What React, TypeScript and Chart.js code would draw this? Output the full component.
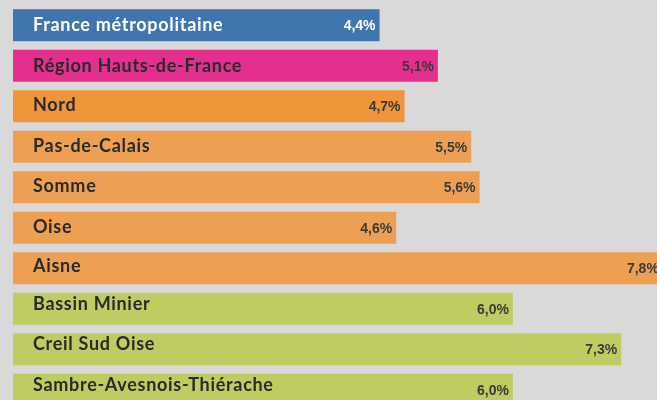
import React, { useEffect, useRef } from "react";
import { Chart, registerables } from "chart.js";

Chart.register(...registerables);

const categories = [
  "France métropolitaine",
  "Région Hauts-de-France",
  "Nord",
  "Pas-de-Calais",
  "Somme",
  "Oise",
  "Aisne",
  "Bassin Minier",
  "Creil Sud Oise",
  "Sambre-Avesnois-Thiérache",
];
const values = [4.4, 5.1, 4.7, 5.5, 5.6, 4.6, 7.8, 6.0, 7.3, 6.0];
const barColors = [
  "#4175ae",
  "#e52f8f",
  "#f0963a",
  "#eda052",
  "#eda052",
  "#eda052",
  "#eda052",
  "#bfcc62",
  "#bfcc62",
  "#bfcc62",
];
const nameColors = ["#ffffff", "#2a2a2a", "#2a2a2a", "#2a2a2a", "#2a2a2a", "#2a2a2a", "#2a2a2a", "#2a2a2a", "#2a2a2a", "#2a2a2a"];
const valueColors = ["#ffffff", "#3a3a3a", "#3a3a3a", "#3a3a3a", "#3a3a3a", "#3a3a3a", "#3a3a3a", "#3a3a3a", "#3a3a3a", "#3a3a3a"];
const nameOffsets = [0, 0, -1, -1, -1, -1, -2, -5, -5, -5];

const fmt = (v: number) => v.toFixed(1).replace(".", ",") + "%";

const labelPlugin = {
  id: "barLabels",
  afterDatasetsDraw(chart: any) {
    const ctx = chart.ctx;
    const meta = chart.getDatasetMeta(0);
    ctx.save();
    meta.data.forEach((bar: any, i: number) => {
      const base = bar.base;
      ctx.textBaseline = "middle";
      ctx.textAlign = "left";
      ctx.fillStyle = nameColors[i];
      ctx.font = "700 18px Lato";
      (ctx as any).letterSpacing = "0.7px";
      ctx.fillText(categories[i], base + 20, bar.y + nameOffsets[i]);
      (ctx as any).letterSpacing = "0px";
      ctx.textAlign = "right";
      ctx.fillStyle = valueColors[i];
      ctx.font = "700 14px 'Liberation Sans'";
      ctx.fillText(fmt(values[i]), bar.x - 4, bar.y + 1);
    });
    ctx.restore();
  },
};

export default function App() {
  const ref = useRef<HTMLCanvasElement | null>(null);
  useEffect(() => {
    document.body.style.margin = "0";
    document.body.style.background = "#d8d9d8";
    document.documentElement.style.overflow = "hidden";
    const chart = new Chart(ref.current as HTMLCanvasElement, {
      type: "bar",
      data: {
        labels: categories,
        datasets: [
          {
            data: values,
            backgroundColor: barColors,
            borderWidth: 0,
            categoryPercentage: 1,
            barPercentage: 0.79,
          },
        ],
      },
      options: {
        indexAxis: "y",
        animation: false,
        responsive: true,
        maintainAspectRatio: false,
        layout: { padding: { left: 13, top: 5, right: 0, bottom: 0 } },
        scales: {
          x: { display: false, min: 0, max: 7.73 },
          y: { display: false },
        },
        plugins: {
          legend: { display: false },
          tooltip: { enabled: false },
        },
      },
      plugins: [labelPlugin],
    });
    return () => chart.destroy();
  }, []);
  return (
    <div style={{ width: 657, height: 400, overflow: "hidden", background: "#d8d9d8" }}>
      <div style={{ width: 657, height: 410, position: "relative" }}>
        <canvas ref={ref} />
      </div>
    </div>
  );
}
